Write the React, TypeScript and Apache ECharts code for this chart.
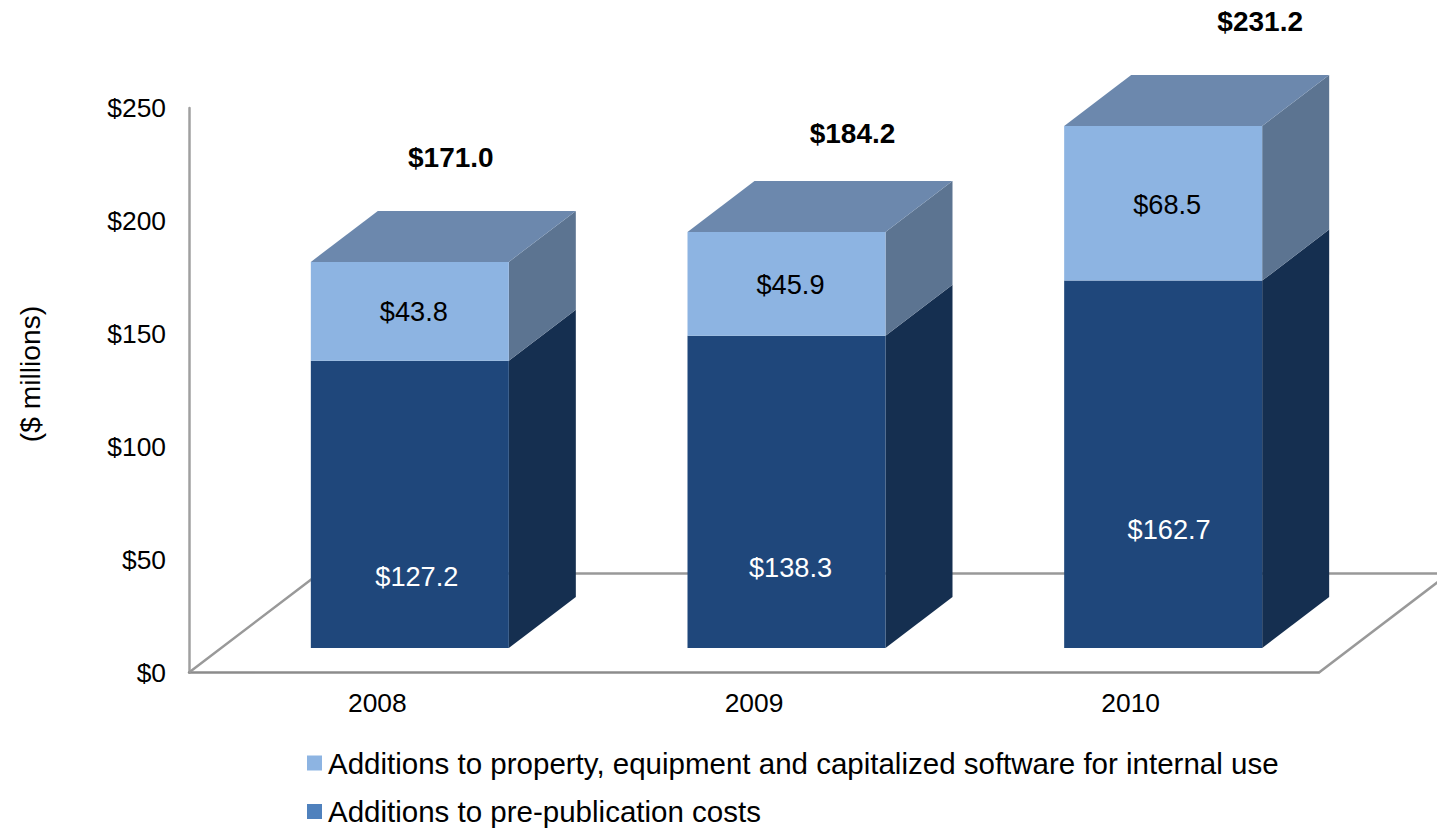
import React, { useEffect, useRef } from "react";
import * as echarts from "echarts";

const years = ["2008", "2009", "2010"];
const prePublication = [127.2, 138.3, 162.7];
const propertyEquipment = [43.8, 45.9, 68.5];
const totals = [171.0, 184.2, 231.2];
const yTicks = { min: 0, max: 250, interval: 50 };

const preName = "Additions to pre-publication costs";
const propName = "Additions to property, equipment and capitalized software for internal use";

// layout: pixel nudges of the labels, relative to the bars
const preLabelNudge = [[7, 72], [4, 76], [6, 65]];
const propLabelNudge = [[4, 0.5], [4, 0.5], [4, 1.5]];
const totalLabelNudge = [[41, -104.5], [66, -99], [97, -104]];

const FONT = "Liberation Sans";
const FS = 26.4;
const LABEL_FS = 27.2;
const BAR_W = 198;
const DEPTH_X = 67;
const DEPTH_Y = 51;
const SHIFT_X = 32.5;
const SHIFT_Y = 24.5;
const TOP = "#6c88ad";

function box(
  api: any,
  base: number,
  value: number,
  front: string,
  side: string,
  withTop: boolean,
  text: string,
  textColor: string,
  nudge: number[],
  total?: { text: string; nudge: number[] }
) {
  const idx = api.value(0);
  const p0 = api.coord([idx, base]);
  const p1 = api.coord([idx, base + value]);
  const l = p0[0] + SHIFT_X - BAR_W / 2;
  const r = l + BAR_W;
  const b = p0[1] - SHIFT_Y;
  const t = p1[1] - SHIFT_Y;
  const children: any[] = [
    {
      type: "polygon",
      shape: { points: [[r, b], [r + DEPTH_X, b - DEPTH_Y], [r + DEPTH_X, t - DEPTH_Y], [r, t]] },
      style: { fill: side },
    },
    { type: "rect", shape: { x: l, y: t, width: BAR_W, height: b - t }, style: { fill: front } },
  ];
  if (withTop) {
    children.push({
      type: "polygon",
      shape: { points: [[l, t], [l + DEPTH_X, t - DEPTH_Y], [r + DEPTH_X, t - DEPTH_Y], [r, t]] },
      style: { fill: TOP },
    });
  }
  children.push({
    type: "text",
    x: (l + r) / 2 + nudge[0],
    y: (t + b) / 2 + nudge[1],
    style: {
      text,
      fill: textColor,
      font: `${LABEL_FS}px "${FONT}"`,
      textAlign: "center",
      textVerticalAlign: "middle",
    },
  });
  if (total) {
    children.push({
      type: "text",
      x: (l + r) / 2 + total.nudge[0],
      y: t + total.nudge[1],
      style: {
        text: total.text,
        fill: "#000000",
        font: `bold 28px "${FONT}"`,
        textAlign: "center",
        textVerticalAlign: "middle",
      },
    });
  }
  return { type: "group", children };
}

export default function App() {
  const ref = useRef<HTMLDivElement>(null);
  useEffect(() => {
    document.body.style.margin = "0";
    const chart = echarts.init(ref.current!, undefined, { renderer: "svg" });
    chart.setOption({
      animation: false,
      backgroundColor: "#ffffff",
      grid: { left: 189, top: 108, width: 1130, height: 564.5, containLabel: false },
      legend: {
        left: 302,
        top: 743,
        width: 1100,
        height: 120,
        orient: "vertical",
        icon: "rect",
        itemWidth: 15,
        itemHeight: 15,
        itemGap: 18.5,
        data: [propName, preName],
        selectedMode: false,
        textStyle: { fontFamily: FONT, fontSize: 29.5, color: "#000000", padding: [0, 0, 0, 1] },
      },
      graphic: [
        {
          type: "text",
          x: 30,
          y: 374,
          rotation: Math.PI / 2,
          style: {
            text: "($ millions)",
            fill: "#000000",
            font: `28.2px "${FONT}"`,
            textAlign: "center",
            textVerticalAlign: "middle",
          },
        },
      ],
      xAxis: {
        type: "category",
        data: years,
        axisLine: { lineStyle: { color: "#8c8c8c", width: 2.5 } },
        axisTick: { show: false },
        axisLabel: { color: "#000000", fontFamily: FONT, fontSize: FS, margin: 17 },
      },
      yAxis: {
        type: "value",
        min: yTicks.min,
        max: yTicks.max,
        interval: yTicks.interval,
        splitLine: { show: false },
        axisTick: { show: false },
        axisLine: { show: true, lineStyle: { color: "#a0a0a0", width: 2.5 } },
        axisLabel: {
          color: "#000000",
          fontFamily: FONT,
          fontSize: FS,
          margin: 23,
          formatter: (v: number) => `$${v}`,
        },
      },
      series: [
        {
          name: "floor",
          type: "custom",
          z: 1,
          silent: true,
          data: [[0]],
          renderItem: (_p: any, api: any) => {
            const rect = _p.coordSys;
            const x0 = rect.x;
            const x1 = rect.x + rect.width;
            const y0 = rect.y + rect.height;
            const dy = SHIFT_Y * 4 + 1;
            const dx = dy * (DEPTH_X / DEPTH_Y);
            const line = { stroke: "#999999", lineWidth: 2.5, fill: "none" };
            return {
              type: "group",
              children: [
                { type: "polyline", shape: { points: [[x0, y0], [x0 + dx, y0 - dy], [x1 + dx, y0 - dy]] }, style: line },
                { type: "polyline", shape: { points: [[x1, y0], [x1 + dx, y0 - dy]] }, style: line },
              ],
            };
          },
        },
        {
          name: preName,
          type: "custom",
          z: 2,
          itemStyle: { color: "#4f81bd" },
          data: prePublication.map((v, i) => [i, v]),
          renderItem: (p: any, api: any) => {
            const i = p.dataIndex;
            return box(api, 0, prePublication[i], "#1f477b", "#152f50", false,
              `$${prePublication[i].toFixed(1)}`, "#ffffff", preLabelNudge[i]);
          },
        },
        {
          name: propName,
          type: "custom",
          z: 3,
          itemStyle: { color: "#8db4e2" },
          data: propertyEquipment.map((v, i) => [i, v]),
          renderItem: (p: any, api: any) => {
            const i = p.dataIndex;
            return box(api, prePublication[i], propertyEquipment[i], "#8db4e2", "#5c7491", true,
              `$${propertyEquipment[i].toFixed(1)}`, "#000000", propLabelNudge[i],
              { text: `$${totals[i].toFixed(1)}`, nudge: totalLabelNudge[i] });
          },
        },
      ],
    });
    return () => chart.dispose();
  }, []);
  return <div ref={ref} style={{ width: 1437, height: 829 }} />;
}
